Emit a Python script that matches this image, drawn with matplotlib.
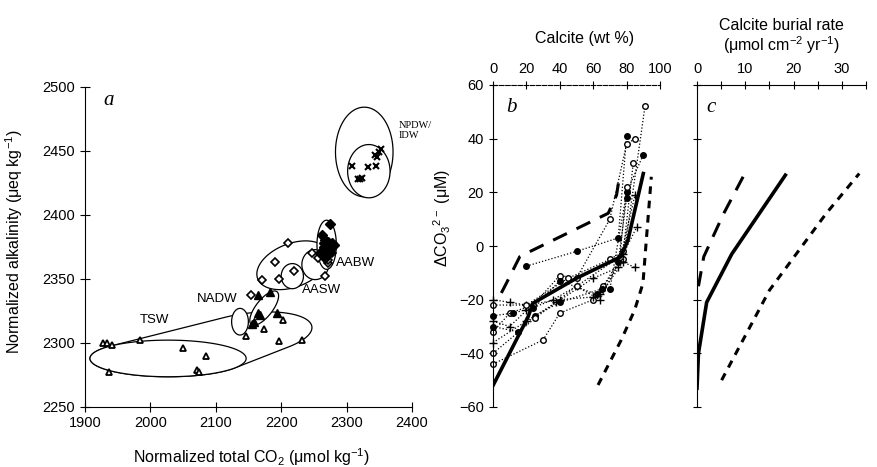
import numpy as np
import matplotlib
matplotlib.use("Agg")
import matplotlib.pyplot as plt

plt.rcParams['font.family'] = ['Liberation Sans', 'DejaVu Sans']
plt.rcParams['mathtext.default'] = 'regular'
plt.rcParams['font.size'] = 10.5

# ---------------- Panel a data ----------------
tsw_co2 = [1928, 1933, 1942, 1937, 1984, 2050, 2085, 2072, 2075, 2146, 2173, 2197, 2203, 2232]
tsw_alk = [2300, 2300, 2298, 2277, 2302, 2296, 2290, 2279, 2277, 2305, 2311, 2301, 2318, 2302]
nadw_co2 = [2165, 2183, 2158, 2164, 2168, 2193, 2155]
nadw_alk = [2337, 2340, 2316, 2323, 2322, 2323, 2315]
aasw_co2 = [2154, 2211, 2191, 2171, 2196, 2219, 2247, 2256, 2267, 2272, 2278, 2272]
aasw_alk = [2337, 2378, 2363, 2349, 2350, 2356, 2370, 2366, 2352, 2362, 2370, 2365]
aabw_co2 = [2275, 2262, 2267, 2272, 2278, 2265, 2270, 2260, 2267, 2275, 2262, 2280, 2267, 2265, 2271, 2276]
aabw_alk = [2393, 2384, 2380, 2379, 2378, 2375, 2372, 2370, 2368, 2371, 2372, 2376, 2366, 2378, 2374, 2374]
npdw_co2 = [2308, 2318, 2324, 2321, 2333, 2345, 2344, 2349, 2352, 2346]
npdw_alk = [2438, 2428, 2429, 2428, 2437, 2438, 2447, 2449, 2451, 2445]

# ellipse definitions: centre x, centre y, conjugate semi-axis vectors (ax, ay), (bx, by)
ell_npdw_outer = (2327, 2449, 44, 0, 0, 35)
ell_npdw_inner = (2334, 2434, 32.4, 0, 0, 20.8)
ell_aabw = (2269.5, 2376.5, 14.8, 0, 0, 19.2)
ell_aasw_big = (2217.6, 2360.5, 54.8, 7.5, -2, 17.5)
ell_aasw_c1 = (2217, 2352, 17, 0, 0, 9.8)
ell_aasw_c2 = (2252, 2361, 20.4, 0, 0, 11.7)
ell_nadw = (2174, 2327, 19.6, 12.8, 10.0, -4.0)
ell_nadw_small = (2137, 2316.4, 12.8, 0, 0, 10.4)
ell_tsw_low = (2027, 2287.7, 119.4, 0, 0, 14.3)
ell_tsw_right = (2151, 2306.4, 96, 5.4, 0, 16.8)

# ---------------- Panel b data ----------------
core_lines = [
    ('o', [0, 30, 40, 60, 66, 78, 91], [-44, -35, -25, -20, -15, -5, 52]),
    ('D', [20, 50, 75, 80], [-7.5, -2, 3, 41]),
    ('+', [0, 10, 20, 40, 60, 64, 78, 85], [-20, -21, -22, -20, -19, -18, -6, -8]),
    ('o', [0, 10, 24, 40, 50, 70, 80, 85], [-32, -25, -22, -11, -12, 10, 38, 40]),
    ('+', [0, 10, 20, 36, 50, 64, 78, 86], [-28, -30, -24, -20, -15, -20, -3, 7]),
    ('D', [0, 12, 24, 40, 62, 70, 80, 90], [-26, -25, -23, -13, -18, -16, 20, 34]),
    ('o', [0, 20, 45, 70, 78, 84], [-22, -22, -12, -5, -2, 31]),
    ('+', [0, 20, 38, 60, 75, 85], [-36, -28, -21, -12, -8, 19]),
    ('D', [0, 15, 25, 40, 65, 75, 80], [-30, -32, -26, -21, -16, -6, 18]),
    ('o', [0, 25, 50, 76, 80], [-40, -27, -15, -4, 22]),
]
b_solid_x = [0, 21, 24, 50, 76.6, 80.8, 90]
b_solid_y = [-52, -26.4, -21.3, -12, -4, 2.2, 27]
b_long_x = [5, 8, 16, 22, 69, 74, 76]
b_long_y = [-17.5, -13.9, -4, -2.1, 12.2, 19, 27]
b_short_x = [62.9, 76.8, 84.8, 89.8, 91.8, 94.8]
b_short_y = [-51.8, -35, -23.9, -13.9, 2.2, 25.8]

# ---------------- Panel c data ----------------
c_solid_x = [0, 0.3, 2, 7.2, 18.3]
c_solid_y = [-53, -40, -21, -3, 26.4]
c_long_x = [0.3, 1.4, 5.5, 9.9]
c_long_y = [-15, -4, 12, 27]
c_short_x = [5.1, 15, 26.7, 33.6]
c_short_y = [-50, -16.5, 12, 27]


def ellipse_pts(e, n=300):
    cx, cy, ax_, ay_, bx_, by_ = e
    t = np.linspace(0, 2 * np.pi, n)
    return cx + ax_ * np.cos(t) + bx_ * np.sin(t), cy + ay_ * np.cos(t) + by_ * np.sin(t)


def hull(px, py, sx=1.0, sy=1.0):
    pts = sorted(set(zip(np.round(np.asarray(px) * sx, 6), np.round(np.asarray(py) * sy, 6))))

    def cross(o, a, b):
        return (a[0] - o[0]) * (b[1] - o[1]) - (a[1] - o[1]) * (b[0] - o[0])
    lower, upper = [], []
    for p in pts:
        while len(lower) >= 2 and cross(lower[-2], lower[-1], p) <= 0:
            lower.pop()
        lower.append(p)
    for p in reversed(pts):
        while len(upper) >= 2 and cross(upper[-2], upper[-1], p) <= 0:
            upper.pop()
        upper.append(p)
    h = np.array(lower[:-1] + upper[:-1] + [lower[0]])
    return h[:, 0] / sx, h[:, 1] / sy


fig = plt.figure(figsize=(8.77, 4.67), dpi=100)

# ---------------- Panel a ----------------
axa = fig.add_axes([85 / 877, 1 - 406.7 / 467, 327 / 877, 320 / 467])
axa.set_xlim(1900, 2400)
axa.set_ylim(2250, 2500)
for s in ['top', 'right']:
    axa.spines[s].set_visible(False)
axa.set_xticks(np.arange(1900, 2401, 100))
axa.set_yticks(np.arange(2250, 2501, 50))
axa.tick_params(direction='inout', length=7, width=0.8, labelsize=10.5)

lw = 0.9
x1, y1 = ellipse_pts(ell_tsw_low)
x2, y2 = ellipse_pts(ell_tsw_right)
hx, hy = hull(np.r_[x1, x2], np.r_[y1, y2], 1.0, 1.28 / 0.6533)
axa.fill(hx, hy, facecolor='white', edgecolor='black', lw=lw, zorder=1)
axa.fill(x1, y1, facecolor='white', edgecolor='black', lw=lw, zorder=1.1)
for e, z in [(ell_nadw_small, 1.5), (ell_nadw, 1.6), (ell_aasw_big, 1.5),
             (ell_aasw_c1, 1.6), (ell_aasw_c2, 1.6), (ell_aabw, 1.7),
             (ell_npdw_outer, 1.5), (ell_npdw_inner, 1.6)]:
    ex, ey = ellipse_pts(e)
    axa.fill(ex, ey, facecolor='white', edgecolor='black', lw=lw, zorder=z)

ms = 5
axa.plot(tsw_co2, tsw_alk, '^', ms=ms, mfc='white', mec='black', mew=1.3, ls='none', zorder=3)
axa.plot(nadw_co2, nadw_alk, '^', ms=ms + 1, mfc='black', mec='black', ls='none', zorder=3)
axa.plot(aasw_co2, aasw_alk, 'D', ms=3.8, mfc='white', mec='black', mew=1.2, ls='none', zorder=3)
axa.plot(aabw_co2, aabw_alk, 'D', ms=5, mfc='black', mec='black', ls='none', zorder=3)
axa.plot(npdw_co2, npdw_alk, 'x', ms=5, mec='black', mew=1.5, ls='none', zorder=3)

axa.text(1928, 2497, 'a', family='Liberation Serif', style='italic', fontsize=15, va='top')
axa.text(2380, 2473, 'NPDW/\nIDW', family='Liberation Serif', fontsize=7.5, va='top', linespacing=1.1)
axa.text(2283, 2362, 'AABW', fontsize=9.5, va='center')
axa.text(2232, 2341, 'AASW', fontsize=9.5, va='center')
axa.text(2071, 2334, 'NADW', fontsize=9.5, va='center')
axa.text(1984, 2318, 'TSW', fontsize=9.5, va='center')

axa.set_xlabel('Normalized total CO$_2$ (μmol kg$^{-1}$)', fontsize=11.5)
axa.set_ylabel('Normalized alkalinity (μeq kg$^{-1}$)', fontsize=11.5)
axa.xaxis.set_label_coords(0.51, -0.125)
axa.yaxis.set_label_coords(-0.183, 0.516)

# ---------------- Panel b ----------------
axb = fig.add_axes([493 / 877, 1 - 407 / 467, 167 / 877, 322 / 467])
axb.set_xlim(0, 100)
axb.set_ylim(-60, 60)
for s in ['bottom', 'right']:
    axb.spines[s].set_visible(False)
axb.xaxis.tick_top()
axb.set_xticks(np.arange(0, 101, 20))
axb.set_yticks(np.arange(-60, 61, 20))
axb.tick_params(direction='inout', length=6, width=0.8, labelsize=10.5)
axb.spines['top'].set_linestyle((0, (4, 1.5)))
axb.spines['top'].set_linewidth(0.8)

for mk, xs, ys in core_lines:
    if mk == 'o':
        kw = dict(marker='o', ms=4, mfc='white', mec='black', mew=1.0)
    elif mk == 'D':
        kw = dict(marker='o', ms=4, mfc='black', mec='black')
    else:
        kw = dict(marker='+', ms=6, mec='black', mew=1.0)
    axb.plot(xs, ys, color='black', lw=0.9, ls=(0, (1, 1.6)), clip_on=False, zorder=2, **kw)

axb.plot(b_solid_x, b_solid_y, color='black', lw=2.6, zorder=4, solid_joinstyle='miter')
axb.plot(b_long_x, b_long_y, color='black', lw=2.2, ls=(0, (5, 3.5)), zorder=4)
axb.plot(b_short_x, b_short_y, color='black', lw=2.2, ls=(0, (2.5, 2.2)), zorder=4)

axb.text(8, 55, 'b', family='Liberation Serif', style='italic', fontsize=15, va='top')
axb.set_xlabel('Calcite (wt %)', fontsize=11.5)
axb.xaxis.set_label_position('top')
axb.xaxis.set_label_coords(0.55, 1.13)
axb.set_ylabel('ΔCO$_3$$^{2−}$ (μM)', fontsize=11.5)
axb.yaxis.set_label_coords(-0.24, 0.587)

# ---------------- Panel c ----------------
axc = fig.add_axes([697 / 877, 1 - 407 / 467, 169 / 877, 322 / 467])
axc.set_xlim(0, 35)
axc.set_ylim(-60, 60)
for s in ['bottom', 'right']:
    axc.spines[s].set_visible(False)
axc.xaxis.tick_top()
axc.set_xticks(np.arange(0, 31, 10))
axc.set_xticks(np.arange(5, 36, 10), minor=True)
axc.set_yticks(np.arange(-60, 61, 20))
axc.set_yticklabels([])
axc.tick_params(which='both', direction='inout', length=6, width=0.8, labelsize=10.5)

axc.plot(c_solid_x, c_solid_y, color='black', lw=2.6, zorder=4)
axc.plot(c_long_x, c_long_y, color='black', lw=2.2, ls=(0, (5, 3.5)), zorder=4)
axc.plot(c_short_x, c_short_y, color='black', lw=2.2, ls=(0, (2.5, 2.2)), zorder=4)

axc.text(2, 55, 'c', family='Liberation Serif', style='italic', fontsize=15, va='top')
axc.set_xlabel('Calcite burial rate\n(μmol cm$^{-2}$ yr$^{-1}$)', fontsize=11.5, linespacing=1.1)
axc.xaxis.set_label_position('top')
axc.xaxis.set_label_coords(0.5, 1.105)

fig.savefig('out.png', dpi=100, facecolor='white')
